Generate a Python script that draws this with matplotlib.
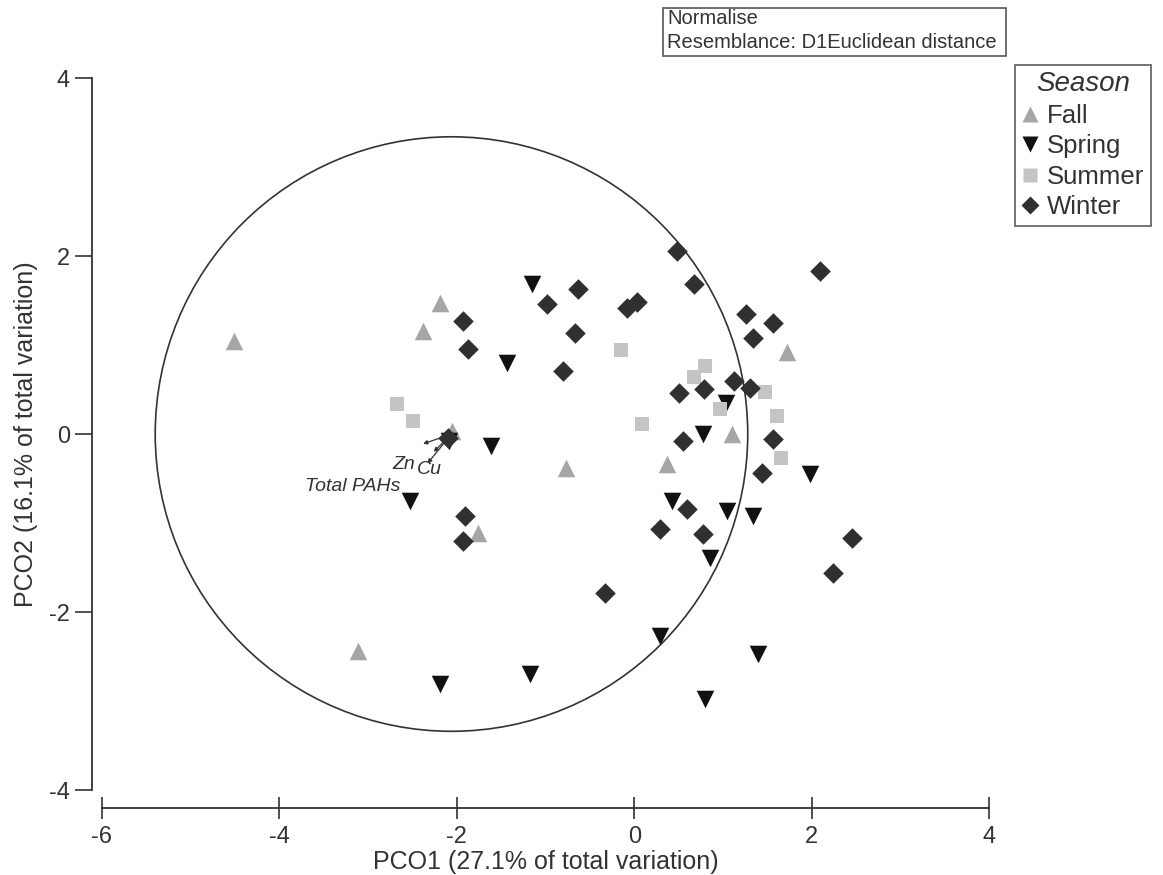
import numpy as np
import matplotlib
matplotlib.use("Agg")
import matplotlib.pyplot as plt
from matplotlib.patches import Circle, Rectangle
from matplotlib.lines import Line2D

plt.rcParams['font.family'] = ['Liberation Sans', 'DejaVu Sans']
plt.rcParams['axes.unicode_minus'] = False

# -----------------------------------------------------------
# data
# -----------------------------------------------------------
fall_x = [-4.51, -2.19, -2.38, -2.05, -1.76, -0.77, 0.37, 1.10, 1.72, -3.11]
fall_y = [1.04, 1.47, 1.16, 0.03, -1.11, -0.38, -0.34, 0.00, 0.92, -2.44]

spring_x = [-1.15, -1.43, -1.62, -2.53, -2.09, -2.19, -1.18, 0.29, 0.80, 1.39,
            0.86, 1.05, 1.34, 1.98, 0.43, 1.03, 0.77]
spring_y = [1.69, 0.80, -0.13, -0.75, -0.08, -2.81, -2.70, -2.27, -2.98, -2.47,
            -1.39, -0.87, -0.92, -0.45, -0.75, 0.35, 0.00]

summer_x = [-2.67, -2.49, -0.15, 0.09, 0.67, 0.80, 0.97, 1.47, 1.61, 1.65]
summer_y = [0.34, 0.15, 0.94, 0.11, 0.64, 0.76, 0.28, 0.47, 0.20, -0.27]

winter_x = [-1.93, -1.87, -0.98, -0.63, -0.67, -0.80, -0.08, 0.03, 0.48, 0.67,
            2.10, 1.26, 1.56, 1.34, 0.50, 0.79, 1.13, 1.31, 0.55, 1.57,
            1.44, 0.60, 0.29, 0.77, -0.33, 2.46, 2.24, -1.91, -1.93, -2.10]
winter_y = [1.27, 0.96, 1.46, 1.63, 1.13, 0.71, 1.42, 1.48, 2.06, 1.69,
            1.83, 1.35, 1.25, 1.08, 0.46, 0.51, 0.60, 0.52, -0.08, -0.06,
            -0.44, -0.84, -1.07, -1.12, -1.79, -1.17, -1.56, -0.92, -1.20, -0.04]

# vector overlay
circle_center = (-2.06, 0.0)
circle_radius = 3.34
vec_names = ["Zn", "Cu", "Total PAHs"]
vec_tip_x = [-2.38, -2.33, -2.26]
vec_tip_y = [-0.11, -0.33, -0.20]
vec_label_x = [-2.73, -2.45, -3.71]
vec_label_y = [-0.39, -0.45, -0.64]

x_ticks = [-6, -4, -2, 0, 2, 4]
y_ticks = [-4, -2, 0, 2, 4]

# -----------------------------------------------------------
# figure
# -----------------------------------------------------------
fig = plt.figure(figsize=(11.63, 8.75), dpi=100)
ax = fig.add_axes([0.0877, 0.0971, 0.7627, 0.8137])
ax.set_xlim(-6, 4)
ax.set_ylim(-4, 4)

for s in ["top", "right"]:
    ax.spines[s].set_visible(False)
ax.spines["left"].set_position(("outward", 7))
ax.spines["bottom"].set_position(("outward", 13))
ax.spines["left"].set_bounds(-4, 4)
ax.spines["bottom"].set_bounds(-6, 4)
for s in ["left", "bottom"]:
    ax.spines[s].set_color("#333333")
    ax.spines[s].set_linewidth(1.3)

ax.set_xticks(x_ticks)
ax.set_yticks(y_ticks)
ax.tick_params(axis="x", direction="inout", length=16, width=1.2,
               colors="#333333", labelsize=17, pad=5)
ax.tick_params(axis="y", direction="out", length=12, width=1.2,
               colors="#333333", labelsize=17, pad=4)

ax.set_xlabel("PCO1 (27.1% of total variation)", fontsize=18, color="#333333", labelpad=1)
ax.set_ylabel("PCO2 (16.1% of total variation)", fontsize=18, color="#333333", labelpad=8)

# circle
ax.add_patch(Circle(circle_center, circle_radius, fill=False, ec="#333333", lw=1.2, zorder=1))

# points
ax.scatter(fall_x, fall_y, marker="^", s=160, c="#a6a6a6", lw=0, zorder=3)
ax.scatter(spring_x, spring_y, marker="v", s=160, c="#111111", lw=0, zorder=3)
ax.scatter(summer_x, summer_y, marker="s", s=115, c="#c4c4c4", lw=0, zorder=3)
ax.scatter(winter_x, winter_y, marker="D", s=110, c="#303030", lw=0, zorder=3)

# vectors
for i in range(len(vec_names)):
    ax.annotate("", xy=(vec_tip_x[i], vec_tip_y[i]), xytext=circle_center,
                arrowprops=dict(arrowstyle="-|>", color="#333333", lw=0.9,
                                mutation_scale=6, shrinkA=0, shrinkB=0),
                zorder=4)
    ax.text(vec_label_x[i], vec_label_y[i], vec_names[i], fontsize=14,
            style="italic", color="#333333", zorder=5)

# top info box
fig.patches.append(Rectangle((663 / 1163, 1 - 56 / 875), 343 / 1163, 48 / 875,
                             transform=fig.transFigure, fill=False,
                             ec="#555555", lw=1.2))
fig.text(667 / 1163, 1 - 19 / 875, "Normalise", fontsize=14.5, color="#333333",
         va="center", ha="left")
fig.text(667 / 1163, 1 - 43 / 875, "Resemblance: D1Euclidean distance", fontsize=14.5,
         color="#333333", va="center", ha="left")

# legend
handles = [
    Line2D([], [], ls="", marker="^", ms=12, mfc="#a6a6a6", mec="none"),
    Line2D([], [], ls="", marker="v", ms=12, mfc="#111111", mec="none"),
    Line2D([], [], ls="", marker="s", ms=10, mfc="#c4c4c4", mec="none"),
    Line2D([], [], ls="", marker="D", ms=9, mfc="#303030", mec="none"),
]
leg = fig.legend(handles, ["Fall", "Spring", "Summer", "Winter"],
                 loc="upper left", bbox_to_anchor=(1015 / 1163, 1 - 65 / 875),
                 title="Season", fontsize=18.5, frameon=True, fancybox=False,
                 edgecolor="#444444", handlelength=0.7, handletextpad=0.3,
                 labelspacing=0.25, borderpad=0.25, borderaxespad=0)
leg.get_title().set_fontsize(20)
leg.get_title().set_style("italic")
leg.get_title().set_color("#333333")
leg.get_frame().set_linewidth(1.3)
for t in leg.get_texts():
    t.set_color("#333333")

fig.savefig("out.png", dpi=100, facecolor="white")
